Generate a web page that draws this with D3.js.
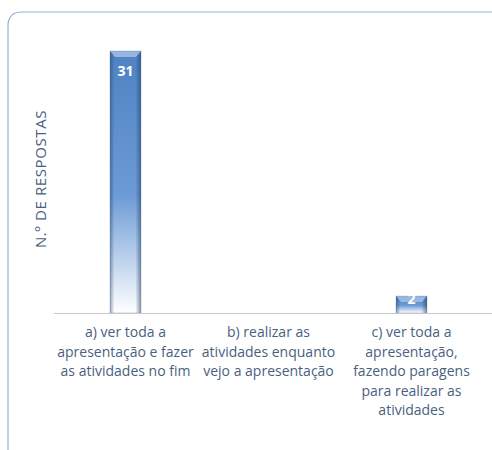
<!DOCTYPE html>
<html>
<head>
<meta charset="utf-8">
<script src="https://cdn.jsdelivr.net/npm/d3@7"></script>
<style>
  html, body { margin: 0; padding: 0; background: #fff; }
  svg { display: block; }
</style>
</head>
<body>
<div id="chart"></div>
<script>
// Answers to the survey question
const categories = [
  ['a) ver toda a', 'apresentação e fazer', 'as atividades no fim'],
  ['b) realizar as', 'atividades enquanto', 'vejo a apresentação'],
  ['c) ver toda a', 'apresentação,', 'fazendo paragens', 'para realizar as', 'atividades']
];
const keys = ['a', 'b', 'c'];
const values = [31, 0, 2];
const yMax = 31;

const W = 492, H = 450;
const margin = { top: 51, right: 9, bottom: 137, left: 54 };
const width = W - margin.left - margin.right;
const height = H - margin.top - margin.bottom;

const font = '"Liberation Sans Narrow", "Open Sans", sans-serif';
const textColor = '#4a5f80';

const root = d3.select('#chart')
  .append('svg')
  .attr('width', W)
  .attr('height', H);

const defs = root.append('defs');

// Vertical fade from blue at the top to white at the base
const fade = defs.append('linearGradient')
  .attr('id', 'fade')
  .attr('x1', 0).attr('y1', 0).attr('x2', 0).attr('y2', 1);
fade.append('stop').attr('offset', '0%').attr('stop-color', '#4f82c3');
fade.append('stop').attr('offset', '55%').attr('stop-color', '#6c9bd6');
fade.append('stop').attr('offset', '100%').attr('stop-color', '#ffffff');

// Side shading to give the bars a bevelled look
const bevel = defs.append('linearGradient')
  .attr('id', 'bevel')
  .attr('x1', 0).attr('y1', 0).attr('x2', 1).attr('y2', 0);
bevel.append('stop').attr('offset', '0%').attr('stop-color', '#1f3d66').attr('stop-opacity', 0.45);
bevel.append('stop').attr('offset', '14%').attr('stop-color', '#1f3d66').attr('stop-opacity', 0);
bevel.append('stop').attr('offset', '82%').attr('stop-color', '#1f3d66').attr('stop-opacity', 0);
bevel.append('stop').attr('offset', '100%').attr('stop-color', '#1f3d66').attr('stop-opacity', 0.55);

// Chart frame (open on the right side)
root.append('path')
  .attr('d', 'M 500 12 L 22 12 Q 8 12 8 26 L 8 452')
  .attr('fill', 'none')
  .attr('stroke', '#8fb1db')
  .attr('stroke-width', 1.2);

const svg = root.append('g')
  .attr('transform', `translate(${margin.left},${margin.top})`);

const x = d3.scaleBand()
  .domain(keys)
  .range([0, width])
  .paddingInner(0)
  .paddingOuter(0);

const y = d3.scaleLinear()
  .domain([0, yMax])
  .range([height, 0]);

const barW = 31;

const bars = svg.append('g')
  .selectAll('g')
  .data(values.map((v, i) => ({ key: keys[i], value: v })).filter(d => d.value > 0))
  .enter()
  .append('g')
  .attr('transform', d => `translate(${x(d.key) + x.bandwidth() / 2 - barW / 2},${y(d.value)})`);

bars.append('rect')
  .attr('width', barW)
  .attr('height', d => height - y(d.value))
  .attr('fill', 'url(#fade)');

bars.append('rect')
  .attr('width', barW)
  .attr('height', d => height - y(d.value))
  .attr('fill', 'url(#bevel)');

// Light top bevel
bars.append('path')
  .attr('d', `M0,0 L${barW},0 L${barW - 5},6 L5,6 Z`)
  .attr('fill', '#a9c4ea')
  .attr('opacity', 0.8);

bars.append('rect')
  .attr('width', barW)
  .attr('height', d => height - y(d.value))
  .attr('fill', 'none')
  .attr('stroke', '#4a6d9a')
  .attr('stroke-opacity', 0.35)
  .attr('stroke-width', 0.8);

// Value labels, inside the top end; short bars push the label up past the top
bars.append('text')
  .attr('x', barW / 2)
  .attr('y', d => Math.min(25, height - y(d.value) - 9))
  .attr('text-anchor', 'middle')
  .style('font-family', font)
  .style('font-weight', 'bold')
  .style('font-size', '14px')
  .style('fill', '#ffffff')
  .text(d => d.value);

// Baseline
svg.append('line')
  .attr('x1', 0)
  .attr('x2', width + margin.right)
  .attr('y1', height + 0.5)
  .attr('y2', height + 0.5)
  .attr('stroke', '#c8c8c8')
  .attr('stroke-width', 1);

// Category labels
const xAxis = svg.append('g')
  .attr('transform', `translate(0,${height})`);

xAxis.selectAll('text')
  .data(keys)
  .enter()
  .append('text')
  .attr('x', d => x(d) + x.bandwidth() / 2)
  .attr('y', 24)
  .attr('text-anchor', 'middle')
  .style('font-family', font)
  .style('font-size', '14px')
  .style('fill', textColor)
  .each(function (d, i) {
    d3.select(this).selectAll('tspan')
      .data(categories[i])
      .enter()
      .append('tspan')
      .attr('x', x(d) + x.bandwidth() / 2)
      .attr('dy', (_, j) => j === 0 ? 0 : 19.5)
      .text(t => t);
  });

// Y-axis title
root.append('text')
  .attr('transform', 'translate(46,179) rotate(-90)')
  .attr('text-anchor', 'middle')
  .style('font-family', font)
  .style('font-size', '15px')
  .style('letter-spacing', '0.6px')
  .style('fill', textColor)
  .text('N.º DE RESPOSTAS');
</script>
</body>
</html>
